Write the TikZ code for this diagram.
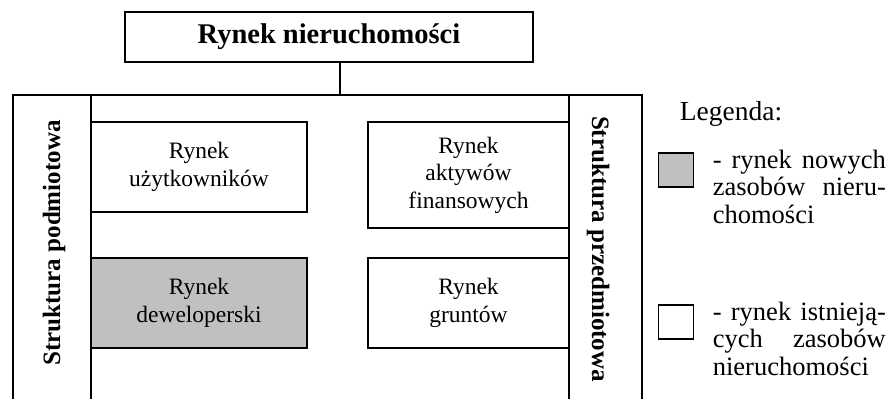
\documentclass[tikz,border=0pt]{standalone}
\usepackage{fontspec}
\setmainfont{Liberation Serif}
\definecolor{boxgray}{RGB}{192,192,192}
\begin{document}
\begin{tikzpicture}[x=1pt,y=-1pt,line width=1.7pt,
  box/.style={draw,line width=1.7pt,inner sep=0pt,align=center,
    font=\fontsize{23.5}{27.5}\selectfont},
  titlebox/.style={box,font=\bfseries\fontsize{28.5}{30}\selectfont},
  sidelabel/.style={inner sep=0pt,anchor=base,font=\bfseries\fontsize{25}{28}\selectfont},
  legsq/.style={draw,line width=1.7pt,inner sep=0pt,minimum width=35pt,minimum height=34pt},
  legline/.style={inner sep=0pt,anchor=base west,font=\fontsize{26.5}{28}\selectfont}]
\useasboundingbox (0,0) rectangle (890,399);
% title
\node[titlebox,minimum width=408pt,minimum height=50pt] (top) at (329,37) {Rynek nieruchomości};
% frame
\draw (13,399) -- (13,95) -- (642,95) -- (642,399);
\draw (91,95) -- (91,399);
\draw (569,95) -- (569,399);
\coordinate (ftop) at (340,95);
\draw (top.south -| ftop) -- (ftop);
% side labels
\node[sidelabel,rotate=90] (sp) at (60,243) {Struktura podmiotowa};
\node[sidelabel,rotate=-90] (sq) at (592,249) {Struktura przedmiotowa};
% boxes
\node[box,minimum width=216pt,minimum height=90pt] (uz) at (199,167) {Rynek\\użytkowników};
\node[box,fill=boxgray,minimum width=216pt,minimum height=90pt] (dev) at (199,303) {Rynek\\deweloperski};
\node[box,minimum width=201pt,minimum height=106pt] (akt) at (468.5,175) {Rynek\\aktywów\\finansowych};
\node[box,minimum width=201pt,minimum height=90pt] (gr) at (468.5,303) {Rynek\\gruntów};
% legend
\node[legline,font=\fontsize{27.5}{28}\selectfont] (leg) at (679,120) {Legenda:};
\node[legsq,fill=boxgray] (sq1) at (676,170) {};
\node[legsq,fill=white] (sq2) at (676,322) {};
\node[legline] (a1) at (712,168) {\hbox to 173pt{-\hfill rynek\hfill nowych}};
\node[legline] (a2) at (712,195.5) {\hbox to 173pt{zasobów\hfill nieru-}};
\node[legline] (a3) at (712,223) {chomości};
\node[legline] (b1) at (712,320) {\hbox to 173pt{-\hfill rynek\hfill istnieją-}};
\node[legline] (b2) at (712,347.5) {\hbox to 173pt{cych\hfill zasobów}};
\node[legline] (b3) at (712,375) {nieruchomości};
\end{tikzpicture}
\end{document}
